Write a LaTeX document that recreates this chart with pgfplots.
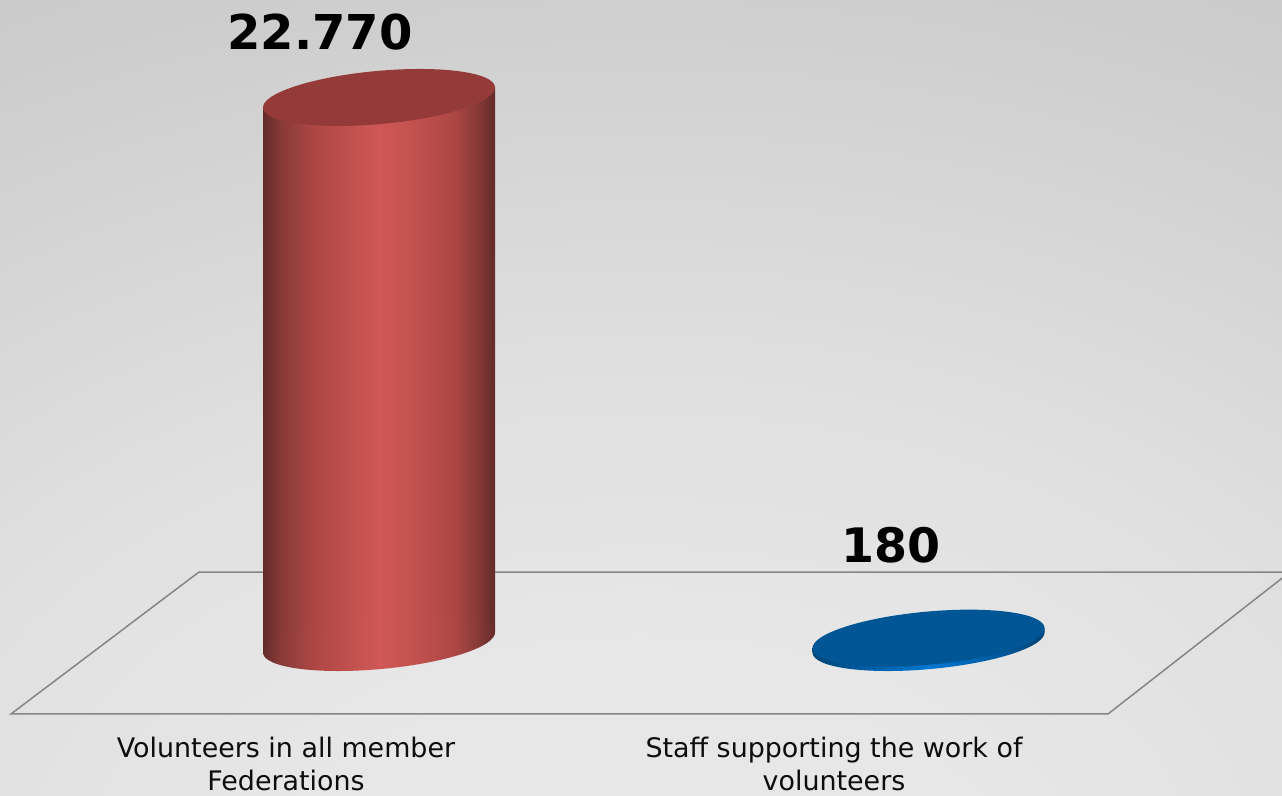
\documentclass[border=0pt]{standalone}
\usepackage{pgfplots}
\pgfplotsset{compat=1.18}
\usepackage{fontspec}
\setmainfont{DejaVu Sans}
\definecolor{rA}{HTML}{622B29}
\definecolor{rB}{HTML}{883A38}
\definecolor{rC}{HTML}{AD4744}
\definecolor{rD}{HTML}{C1514E}
\definecolor{rE}{HTML}{D05856}
\definecolor{rTop}{HTML}{943B39}
\definecolor{bA}{HTML}{004474}
\definecolor{bB}{HTML}{005FA8}
\definecolor{bC}{HTML}{0078D4}
\definecolor{bTop}{HTML}{005595}
\definecolor{g0}{HTML}{E7E7E7}
\definecolor{g1}{HTML}{E0E0E0}
\definecolor{g2}{HTML}{D5D5D5}
\definecolor{g3}{HTML}{CECECE}
\definecolor{g4}{HTML}{BFBFBF}
\definecolor{g5}{HTML}{B4B4B4}
\pgfdeclarehorizontalshading{redcyl}{100bp}{color(0bp)=(rA);color(25bp)=(rA);color(29bp)=(rB);color(36bp)=(rC);color(44bp)=(rD);color(50bp)=(rE);color(58bp)=(rD);color(66bp)=(rC);color(71bp)=(rB);color(75bp)=(rA);color(100bp)=(rA)}
\pgfdeclarehorizontalshading{bluecyl}{100bp}{color(0bp)=(bA);color(25bp)=(bA);color(38bp)=(bB);color(50bp)=(bC);color(62bp)=(bB);color(75bp)=(bA);color(100bp)=(bA)}
\pgfdeclareradialshading{bgshade}{\pgfpoint{0bp}{-40bp}}{color(0bp)=(g0);color(15bp)=(g0);color(29bp)=(g1);color(40bp)=(g2);color(47bp)=(g3);color(65bp)=(g4);color(71bp)=(g5);color(100bp)=(g5)}
\pgfdeclareplotmark{redbase}{\shade[draw=none,shading=redcyl] (0pt,0pt) ellipse[x radius=116.5pt,y radius=26.6pt,rotate=5.2];}
\pgfdeclareplotmark{redtop}{\fill[draw=none,rTop] (0pt,0pt) ellipse[x radius=116.5pt,y radius=26.6pt,rotate=5.2];}
\pgfdeclareplotmark{bluebase}{\shade[draw=none,shading=bluecyl] (0pt,0pt) ellipse[x radius=116.5pt,y radius=26.6pt,rotate=5.2];}
\pgfdeclareplotmark{bluetop}{\fill[draw=none,bTop] (0pt,0pt) ellipse[x radius=116.5pt,y radius=26.6pt,rotate=5.2];}
\begin{document}
\begin{tikzpicture}
\begin{axis}[
  scale only axis, width=1282pt, height=795pt,
  xmin=0, xmax=1282, ymin=-6372, ymax=26844,
  axis lines=none, clip=true,
]
\shade[shading=bgshade] (rel axis cs:0,0) rectangle (rel axis cs:1,1);
% floor
\addplot[draw=black!48, line width=1.5pt, fill=white, fill opacity=.06, draw opacity=1]
  coordinates {(199,2945) (1290,2945) (1108,-2987) (11,-2987)} -- cycle;
% red cylinder: value 22770; the tilted ellipse ends lie 418 units below (left) and above (right) the centre
\addplot[only marks, mark=redbase] coordinates {(379,0)};
\addplot[draw=none, shade, shading=redcyl] coordinates {(263,-418) (263,22352) (495,23188) (495,418)} -- cycle;
\addplot[only marks, mark=redtop] coordinates {(379,22770)};
% blue cylinder: value 180
\addplot[only marks, mark=bluebase] coordinates {(928.5,0)};
\addplot[draw=none, shade, shading=bluecyl] coordinates {(812.5,-418) (812.5,-238) (1044.5,598) (1044.5,418)} -- cycle;
\addplot[only marks, mark=bluetop] coordinates {(928.5,180)};
% labels
\node[font=\bfseries\fontsize{48}{50}\selectfont, text=black] at (axis cs:320,25510) {22.770};
\node[font=\bfseries\fontsize{47.5}{50}\selectfont, text=black] at (axis cs:891,4073) {180};
\node[font=\fontsize{26.9}{33}\selectfont, align=center, text=black!95] at (axis cs:286,-5076) {Volunteers in all member\\Federations};
\node[font=\fontsize{26.9}{33}\selectfont, align=center, text=black!95] at (axis cs:834,-5076) {Staff supporting the work of\\volunteers};
\end{axis}
\end{tikzpicture}
\end{document}
